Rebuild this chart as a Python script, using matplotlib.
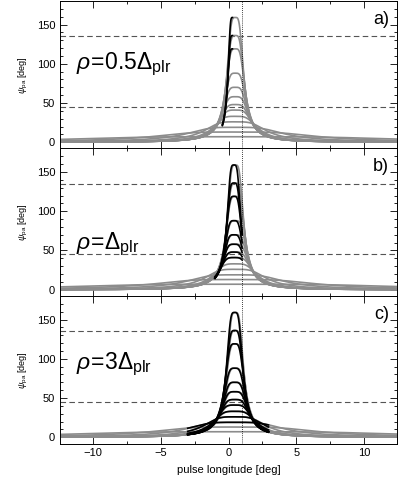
import numpy as np
import matplotlib
matplotlib.use('Agg')
import matplotlib.pyplot as plt
from matplotlib.ticker import MultipleLocator

plt.rcParams['font.family'] = ['Liberation Sans', 'DejaVu Sans']
plt.rcParams['mathtext.fontset'] = 'custom'
plt.rcParams['mathtext.rm'] = 'Liberation Sans'
plt.rcParams['mathtext.it'] = 'Liberation Sans:italic'

# peak values [deg] and half widths [deg] of the curve family
peaks = [159, 136, 119, 88, 70, 58, 48, 41, 33, 26, 19, 13, 7]
widths = [0.5, 0.55, 0.6, 0.68, 0.76, 0.85, 0.95, 1.1, 1.35, 1.9, 3.0, 5.0, 10.0]
centre = 0.5        # pulse longitude of the peaks [deg]

panel_tags = ['a)', 'b)', 'c)']
panel_text = [r'$\rho\!=\!0.5\Delta_{\rm plr}$', r'$\rho\!=\!\Delta_{\rm plr}$', r'$\rho\!=\!3\Delta_{\rm plr}$']
text_y = [99, 58, 93]
# visible (black) part per panel: longitude window, lowest visible peak,
# shift of the centre and narrowing of the visible curves
black_lo = [-0.45, -1.0, -3.0]
black_hi = [0.3, 1.0, 2.95]
black_min_peak = [110, 40, 19]
black_shift = [-0.2, -0.1, -0.05]
black_narrow = [0.55, 0.85, 1.0]

grey = '#8c8c8c'
x = np.linspace(-12.5, 12.5, 2501)

def curve(xx, p, w, x0):
    # flat topped peak with 1/x^2 wings
    return p / np.sqrt(1.0 + ((xx - x0) / w) ** 4)

fig = plt.figure(figsize=(3.99, 4.87), dpi=100)
left, width = 60 / 399., 337 / 399.
h = 147.5 / 487.
top = 1 - 1 / 487.

for i in range(3):
    ax = fig.add_axes([left, top - (i + 1) * h, width, h])

    for p, w in zip(peaks, widths):
        ax.plot(x, curve(x, p, w, centre), color=grey, lw=1.2, zorder=2)
    for p, w in zip(peaks, widths):
        if p < black_min_peak[i]:
            continue
        xb = x[(x >= black_lo[i]) & (x <= black_hi[i])]
        yb = curve(xb, p, w * black_narrow[i], centre + black_shift[i])
        ax.plot(xb, yb, color='black', lw=1.2, zorder=3)

    for yl in (45, 135):
        ax.axhline(yl, color='#555555', lw=0.8, dashes=(5, 3), zorder=1)
    ax.axvline(1.0, color='black', lw=0.6, ls=(0, (1, 1.5)), zorder=4)

    ax.set_xlim(-12.4, 12.4)
    ax.set_ylim(-8, 180)
    ax.xaxis.set_major_locator(MultipleLocator(5))
    ax.xaxis.set_minor_locator(MultipleLocator(2.5))
    ax.yaxis.set_major_locator(MultipleLocator(50))
    ax.yaxis.set_minor_locator(MultipleLocator(10))
    ax.tick_params(which='both', direction='in', top=True, right=True, labelsize=8, width=0.6)
    ax.tick_params(which='major', length=5)
    ax.tick_params(which='minor', length=2.5)
    for s in ax.spines.values():
        s.set_linewidth(0.7)
    if i < 2:
        ax.set_xticklabels([])
    else:
        ax.set_xlabel('pulse longitude [deg]', fontsize=8, labelpad=5)
    ax.set_ylabel(r'$\psi_{\rm pa}$ [deg]', fontsize=6.5, labelpad=5)

    ax.text(-11.2, text_y[i], panel_text[i], fontsize=16.5, va='center', ha='left')
    ax.text(11.8, 157, panel_tags[i], fontsize=13, va='center', ha='right')

plt.savefig('out.png', dpi=100)
